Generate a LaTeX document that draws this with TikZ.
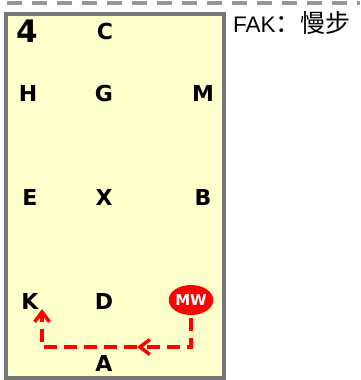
\documentclass[tikz,border=0pt]{standalone}
\usepackage{fontspec}
\setmainfont{DejaVu Sans}
\newfontfamily\latinfont{Liberation Sans}
\newfontfamily\cjkfont{Noto Sans CJK SC}
\usetikzlibrary{arrows.meta,shapes.geometric}
\definecolor{arenafill}{RGB}{255,255,204}
\definecolor{arenaline}{RGB}{118,118,118}
\definecolor{railgray}{RGB}{150,150,150}
\definecolor{routered}{RGB}{255,0,0}

\begin{document}
\begin{tikzpicture}[x=1pt, y=-1pt,
  marker/.style={font=\bfseries\fontsize{22}{22}\selectfont, inner sep=0pt, text=black},
  route/.style={draw=routered, line width=3.5pt, dash pattern=on 13pt off 7pt},
  barb/.style={-{Straight Barb[length=10pt,width=15pt]}}]
\useasboundingbox (0,0) rectangle (360,380);
% rail and arena
\draw[railgray, line width=4pt, dash pattern=on 15pt off 10pt] (7,3) -- (360,3);
\draw[arenaline, fill=arenafill, line width=3.5pt] (6,14) rectangle (224,378);
% letters
\node[marker, font=\bfseries\fontsize{31}{31}\selectfont] (num) at (27,31) {4};
\node[marker] (C) at (105,31) {C};
\node[marker] (H) at (28,93) {H};
\node[marker] (G) at (104,93) {G};
\node[marker] (M) at (203,93) {M};
\node[marker] (E) at (30,197) {E};
\node[marker] (X) at (104,197) {X};
\node[marker] (B) at (203,197) {B};
\node[marker] (K) at (30,301) {K};
\node[marker] (D) at (104,301) {D};
\node[marker] (A) at (104,363) {A};
% rider
\node[ellipse, fill=routered, minimum width=42pt, minimum height=30pt, inner sep=0pt,
      text=white, font=\bfseries\fontsize{15}{15}\selectfont] (mw) at (191,300) {MW};
% route
\coordinate (mid) at (137,347);
\coordinate (kend) at (42,309);
\draw[route, barb, shorten <=3pt] (mw.south) |- (mid);
\draw[route, barb] (mid) -| (kend);
% title
\node[anchor=base west, inner sep=0pt] (title) at (233,32)
  {\latinfont\fontsize{22.5}{22.5}\selectfont FAK\cjkfont\fontsize{25}{25}\selectfont ：慢步};
\end{tikzpicture}
\end{document}
